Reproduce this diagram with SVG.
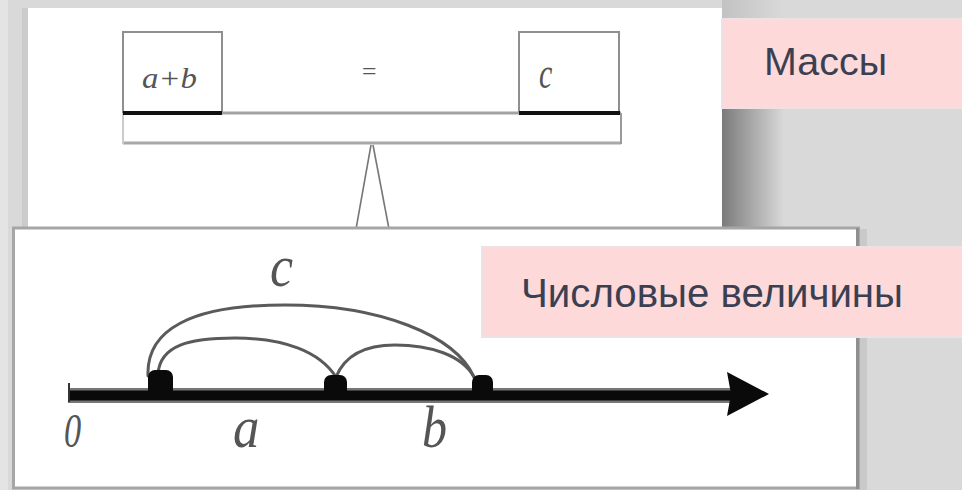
<svg xmlns="http://www.w3.org/2000/svg" width="962" height="490" viewBox="0 0 962 490">
<defs>
<style>
.lbl{font-family:"Liberation Sans",Arial,sans-serif;fill:#3b3f52;}
.math{font-family:"Liberation Serif","Times New Roman",serif;font-style:italic;fill:#555;}
.box{fill:none;stroke:#8f8f8f;stroke-width:2;}
.arc{fill:none;stroke:#5a5a5a;stroke-width:3;stroke-linecap:round;}
.pink{fill:#fdd9da;stroke:#ece1e7;stroke-width:2;}
</style>
<linearGradient id="shTop" x1="0" y1="0" x2="1" y2="0">
<stop offset="0" stop-color="#7a7a7a"/>
<stop offset="0.35" stop-color="#9c9c9c"/>
<stop offset="1" stop-color="#d9d9d9"/>
</linearGradient>
<linearGradient id="shTop2" x1="0" y1="0" x2="1" y2="0">
<stop offset="0" stop-color="#c2c2c2"/>
<stop offset="1" stop-color="#d9d9d9"/>
</linearGradient>
</defs>
<rect x="0" y="0" width="962" height="490" fill="#d9d9d9"/>
<rect x="0" y="0" width="8" height="490" fill="#e4e4e4"/>
<rect x="22" y="8" width="6" height="222" fill="#cbcbcb"/>

<g id="scale-panel">
<rect x="722" y="0" width="62" height="20" fill="url(#shTop2)"/>
<rect x="722" y="106" width="62" height="124" fill="url(#shTop)"/>
<rect x="28" y="8" width="694" height="222" fill="#ffffff"/>
<rect class="box" x="123" y="32" width="99" height="81"/>
<rect class="box" x="519" y="32" width="100" height="81"/>
<line x1="123" y1="113" x2="621" y2="113" stroke="#a2a2a2" stroke-width="3"/>
<line x1="123" y1="143" x2="621" y2="143" stroke="#a8a8a8" stroke-width="3"/>
<line x1="621" y1="113" x2="621" y2="144" stroke="#9a9a9a" stroke-width="2"/>
<line x1="123" y1="113" x2="123" y2="144" stroke="#cccccc" stroke-width="2"/>
<line x1="123" y1="113" x2="222" y2="113" stroke="#111" stroke-width="4"/>
<line x1="519" y1="113" x2="620" y2="113" stroke="#111" stroke-width="4"/>
<line x1="371" y1="145" x2="356" y2="229" stroke="#777" stroke-width="1.6"/>
<line x1="373" y1="145" x2="389" y2="229" stroke="#777" stroke-width="1.6"/>
<text class="math" x="142" y="88" font-size="30" textLength="55" lengthAdjust="spacingAndGlyphs">a+b</text>
<text class="math" x="369" y="80" font-size="26" text-anchor="middle" fill="#999">=</text>
<text class="math" transform="translate(539,88) scale(1,1.5)" font-size="30">c</text>
</g>

<g id="label-massy">
<rect class="pink" x="722" y="19" width="242" height="89"/>
<text class="lbl" x="764" y="75" font-size="39" textLength="123" lengthAdjust="spacingAndGlyphs">Массы</text>
</g>

<g id="numberline-panel">
<rect x="860" y="229" width="7" height="261" fill="#c9c9c9"/>
<rect x="13.5" y="228" width="845" height="260" fill="#ffffff" stroke="#a6a6a6" stroke-width="3"/>
<line x1="857.5" y1="228" x2="857.5" y2="489" stroke="#8f8f8f" stroke-width="3"/>
<line x1="68" y1="395.5" x2="732" y2="395.5" stroke="#777" stroke-width="15"/>
<line x1="68" y1="395.5" x2="732" y2="395.5" stroke="#0a0a0a" stroke-width="10"/>
<line x1="69" y1="383" x2="69" y2="402" stroke="#333" stroke-width="2"/>
<polygon points="727,372 769,394 727,416 731,394" fill="#0a0a0a"/>
<g id="connectors">
<path class="arc" d="M148,376 C146,330 190,305 285,305 C380,305 455,335 474,377"/>
<path class="arc" d="M158,374 C160,345 190,338 235,338 C285,338 320,352 336,377"/>
<path class="arc" d="M336,377 C345,355 365,345 395,345 C430,345 462,355 474,377"/>
</g>
<rect x="148" y="370" width="25" height="26" rx="7" fill="#0a0a0a"/>
<rect x="148" y="380" width="25" height="16" fill="#0a0a0a"/>
<rect x="324" y="375" width="23" height="21" rx="7" fill="#0a0a0a"/>
<rect x="324" y="384" width="23" height="12" fill="#0a0a0a"/>
<rect x="472" y="375" width="21" height="21" rx="7" fill="#0a0a0a"/>
<rect x="472" y="384" width="21" height="12" fill="#0a0a0a"/>
<text class="math" transform="translate(64,447) scale(0.7,1)" font-size="49">0</text>
<text class="math" transform="translate(233,447) scale(0.88,1)" font-size="60">a</text>
<text class="math" transform="translate(422,447) scale(0.85,1)" font-size="59">b</text>
<text class="math" transform="translate(270,286) scale(0.88,1)" font-size="59">c</text>
</g>

<g id="label-chislovye">
<rect class="pink" x="482" y="247" width="482" height="90"/>
<text class="lbl" x="521" y="307" font-size="40" textLength="382" lengthAdjust="spacingAndGlyphs">Числовые величины</text>
</g>
</svg>
